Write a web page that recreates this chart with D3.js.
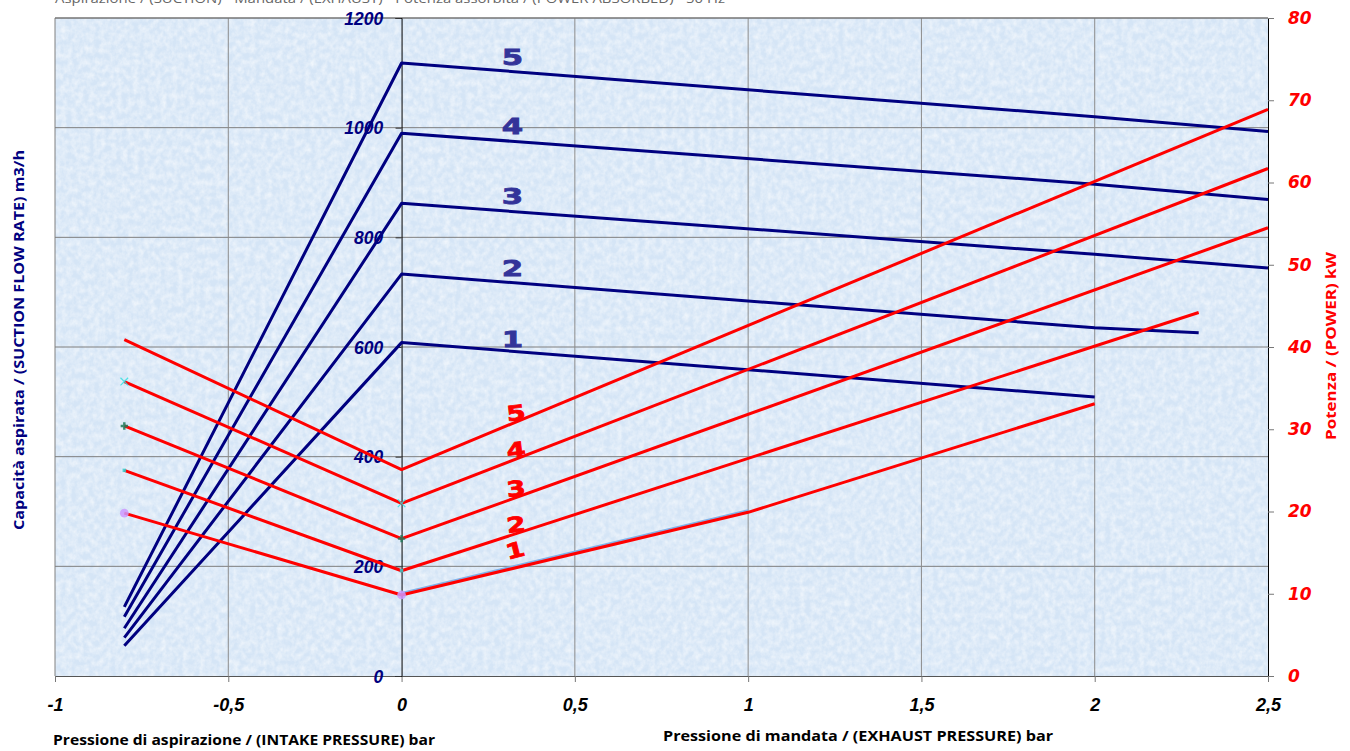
<!DOCTYPE html>
<html>
<head>
<meta charset="utf-8">
<script src="https://cdn.jsdelivr.net/npm/d3@7"></script>
<style>
  body { margin: 0; background: #fff; }
  svg { display: block; }
</style>
</head>
<body>
<div id="chart"></div>
<script>
/* Curve data */
const models = ["1", "2", "3", "4", "5"];

// Flow rate (m3/h), intake side then exhaust side, per model
const flowX = [
  [-0.8, 0, 2],
  [-0.8, 0, 2, 2.3],
  [-0.8, 0, 2, 2.5],
  [-0.8, 0, 2, 2.5],
  [-0.8, 0, 2, 2.5]
];
const flowValues = [
  [55, 608, 509],
  [70, 733, 635, 626],
  [87, 862, 769, 744],
  [108, 990, 897, 869],
  [126, 1118, 1020, 993]
];

// Power (kW), per model
const powerX = [
  [-0.8, 0, 1, 2],
  [-0.8, 0, 2.3],
  [-0.8, 0, 2.5],
  [-0.8, 0, 2.5],
  [-0.8, 0, 2.5]
];
const powerValues = [
  [19.8, 9.85, 19.9, 33.1],
  [25.0, 12.8, 44.2],
  [30.4, 16.7, 54.5],
  [35.8, 21.0, 61.7],
  [40.9, 25.1, 68.9]
];

const xTicks = [-1, -0.5, 0, 0.5, 1, 1.5, 2, 2.5];
const flowTicks = [0, 200, 400, 600, 800, 1000, 1200];
const powerTicks = [0, 10, 20, 30, 40, 50, 60, 70, 80];

const width = 1350, height = 751;
const margins = {top: 18, right: 82, bottom: 75, left: 55};

const svg = d3.select("#chart")
  .append("svg")
    .attr("width", width)
    .attr("height", height)
    .attr("viewBox", [0, 0, width, height]);

/* Scales */
const xScale = d3.scaleLinear()
  .domain([-1, 2.5])
  .range([margins.left, width - margins.right]);

const yFlow = d3.scaleLinear()
  .domain([0, 1200])
  .range([height - margins.bottom, margins.top]);

const yPower = d3.scaleLinear()
  .domain([0, 80])
  .range([height - margins.bottom, margins.top]);

const x0 = xScale.range()[0], x1 = xScale.range()[1];
const y0 = yFlow.range()[0], y1 = yFlow.range()[1];

/* Textured light blue plot background */
const defs = svg.append("defs");
const filt = defs.append("filter")
  .attr("id", "tex")
  .attr("x", 0).attr("y", 0).attr("width", "100%").attr("height", "100%");
filt.append("feTurbulence")
  .attr("type", "fractalNoise")
  .attr("baseFrequency", "0.18 0.15")
  .attr("numOctaves", 3)
  .attr("seed", 11);
filt.append("feColorMatrix")
  .attr("type", "matrix")
  .attr("values", "0 0 0 0 1  0 0 0 0 1  0 0 0 0 1  1.0 0 0 0 -0.3");

svg.append("rect")
  .attr("x", x0).attr("y", y1)
  .attr("width", x1 - x0).attr("height", y0 - y1)
  .attr("fill", "#d5e5f6");
svg.append("rect")
  .attr("x", x0).attr("y", y1)
  .attr("width", x1 - x0).attr("height", y0 - y1)
  .attr("fill", "#fff")
  .attr("filter", "url(#tex)");

/* Gridlines */
svg.append("g")
  .selectAll("line")
  .data(flowTicks.slice(1))
  .join("line")
    .attr("x1", x0).attr("x2", x1)
    .attr("y1", d => yFlow(d)).attr("y2", d => yFlow(d))
    .attr("stroke", "#7f7f7f")
    .attr("stroke-width", 1);

svg.append("g")
  .selectAll("line")
  .data(xTicks.filter(d => d !== 0 && d !== 2.5))
  .join("line")
    .attr("x1", d => xScale(d)).attr("x2", d => xScale(d))
    .attr("y1", y1).attr("y2", y0)
    .attr("stroke", d => d === -1 ? "#808080" : "#8c8c8c")
    .attr("stroke-width", 1);

// top border
svg.append("line")
  .attr("x1", x0).attr("x2", x1)
  .attr("y1", y1).attr("y2", y1)
  .attr("stroke", "#6f6f6f");

/* Axes */
const fmt = d => String(d).replace(".", ",");

const xGroup = svg.append("g")
  .attr("transform", `translate(0, ${y0})`)
  .call(d3.axisBottom(xScale).tickValues(xTicks).tickSize(6).tickPadding(16).tickFormat(fmt));
xGroup.select(".domain").attr("stroke", "#555");
xGroup.selectAll(".tick line").attr("stroke", "#777");
xGroup.selectAll("text")
  .attr("fill", "#000")
  .style("font", "italic bold 18px 'Liberation Sans', Arial, sans-serif");

const yGroup = svg.append("g")
  .attr("transform", `translate(${xScale(0)}, 0)`)
  .call(d3.axisLeft(yFlow).tickValues(flowTicks).tickSize(6).tickPadding(12).tickFormat(d => String(d)));
yGroup.select(".domain").attr("stroke", "#000");
yGroup.selectAll(".tick line").attr("stroke", "#333");
yGroup.selectAll("text")
  .attr("fill", "#000080")
  .style("font", "italic bold 19px 'Liberation Sans', Arial, sans-serif")
  .attr("transform", "scale(0.92,1)")
  .attr("x", -20);

const rGroup = svg.append("g")
  .attr("transform", `translate(${x1}, 0)`)
  .call(d3.axisRight(yPower).tickValues(powerTicks).tickSize(6).tickPadding(14));
rGroup.select(".domain").attr("stroke", "#000");
rGroup.selectAll(".tick line").attr("stroke", "#777");
rGroup.selectAll("text")
  .attr("fill", "#ff0000")
  .style("font", "italic bold 17px 'DejaVu Sans', Verdana, sans-serif");

/* Lines */
const line = d3.line()
  .x(d => xScale(d[0]))
  .y(d => d[1]);

const flowSeries = models.map((m, i) => flowX[i].map((x, j) => [x, yFlow(flowValues[i][j])]));
const powerSeries = models.map((m, i) => powerX[i].map((x, j) => [x, yPower(powerValues[i][j])]));

// faint light-blue shadow under model 1 power line
svg.append("path")
  .attr("d", line(powerSeries[0].slice(1, 3)))
  .attr("transform", "translate(0,-2)")
  .attr("fill", "none")
  .attr("stroke", "#7fb2ea")
  .attr("stroke-width", 2);

svg.append("g")
  .selectAll("path")
  .data(flowSeries)
  .join("path")
    .attr("d", d => line(d))
    .attr("fill", "none")
    .attr("stroke", "#000080")
    .attr("stroke-width", 3)
    .attr("stroke-linejoin", "round");

svg.append("g")
  .selectAll("path")
  .data(powerSeries)
  .join("path")
    .attr("d", d => line(d))
    .attr("fill", "none")
    .attr("stroke", "#ff0000")
    .attr("stroke-width", 3)
    .attr("stroke-linejoin", "round");

/* Leftover tiny markers on the power curves */
const markerStyle = [
  {type: d3.symbolCircle, size: 60, fill: "#cc99ff", stroke: "none"},
  {type: d3.symbolSquare, size: 12, fill: "#33cccc", stroke: "none"},
  {type: d3.symbolCross, size: 30, fill: "#1f7a5a", stroke: "none"},
  {type: d3.symbolX, size: 40, fill: "none", stroke: "#33e0e0"}
];
markerStyle.forEach((s, i) => {
  svg.append("g")
    .selectAll("path")
    .data(powerSeries[i].slice(0, 2))
    .join("path")
      .attr("transform", d => `translate(${xScale(d[0])},${d[1]})`)
      .attr("d", d3.symbol().type(s.type).size(s.size))
      .attr("fill", s.fill)
      .attr("stroke", s.stroke)
      .attr("stroke-width", 1.2)
      .attr("opacity", 0.85);
});

/* Model numbers on curves */
const labelX = 0.32;
const interp = (xs, ys, x) => {
  for (let k = 0; k < xs.length - 1; k++) {
    if (x >= xs[k] && x <= xs[k + 1]) {
      const t = (x - xs[k]) / (xs[k + 1] - xs[k]);
      return ys[k] + t * (ys[k + 1] - ys[k]);
    }
  }
  return ys[ys.length - 1];
};

svg.append("g")
  .selectAll("text")
  .data(models)
  .join("text")
    .attr("transform", (d, i) => {
      const px = xScale(labelX), py = yFlow(interp(flowX[i], flowValues[i], labelX)) - (i === 0 ? 4 : 7);
      return `translate(${px},${py}) scale(1.4,1)`;
    })
    .attr("text-anchor", "middle")
    .attr("fill", "#333399")
    .style("font", "900 22px 'DejaVu Sans', sans-serif")
    .style("stroke", "#333399")
    .style("stroke-width", 0.8)
    .text(d => d);

svg.append("g")
  .selectAll("text")
  .data(models)
  .join("text")
    .attr("transform", (d, i) => {
      const px = xScale(labelX + 0.013), py = yPower(interp(powerX[i], powerValues[i], labelX)) - (i === 0 ? 11 : 3);
      return `translate(${px},${py}) rotate(${i === 0 ? -14 : -7}) scale(1.3,1)`;
    })
    .attr("text-anchor", "middle")
    .attr("fill", "#ff0000")
    .style("font", "900 21px 'DejaVu Sans', sans-serif")
    .style("stroke", "#ff0000")
    .style("stroke-width", 0.8)
    .text(d => d);

/* Axis titles */
svg.append("text")
  .attr("transform", `translate(24, 340) rotate(-90)`)
  .attr("text-anchor", "middle")
  .attr("fill", "#000080")
  .attr("textLength", 380)
  .attr("lengthAdjust", "spacingAndGlyphs")
  .style("font", "bold 15px 'Open Sans', sans-serif")
  .text("Capacità aspirata / (SUCTION FLOW RATE) m3/h");

svg.append("text")
  .attr("transform", `translate(1336, 346) rotate(-90)`)
  .attr("text-anchor", "middle")
  .attr("fill", "#ff0000")
  .attr("textLength", 188)
  .attr("lengthAdjust", "spacingAndGlyphs")
  .style("font", "bold 15px 'Open Sans', sans-serif")
  .text("Potenza / (POWER) kW");

svg.append("text")
  .attr("x", 53).attr("y", 745)
  .attr("fill", "#000")
  .attr("textLength", 382)
  .attr("lengthAdjust", "spacingAndGlyphs")
  .style("font", "bold 14px 'Open Sans', sans-serif")
  .text("Pressione di aspirazione / (INTAKE PRESSURE) bar");

svg.append("text")
  .attr("x", 663).attr("y", 741)
  .attr("fill", "#000")
  .attr("textLength", 390)
  .attr("lengthAdjust", "spacingAndGlyphs")
  .style("font", "bold 14px 'Open Sans', sans-serif")
  .text("Pressione di mandata / (EXHAUST PRESSURE) bar");

// title line cut off at the top edge of the picture, as in the reference
svg.append("text")
  .attr("x", 55).attr("y", 3)
  .attr("fill", "#666")
  .attr("textLength", 670)
  .attr("lengthAdjust", "spacingAndGlyphs")
  .style("font", "13px 'Open Sans', sans-serif")
  .text("Aspirazione / (SUCTION) - Mandata / (EXHAUST) - Potenza assorbita / (POWER ABSORBED) - 50 Hz");
</script>
</body>
</html>
